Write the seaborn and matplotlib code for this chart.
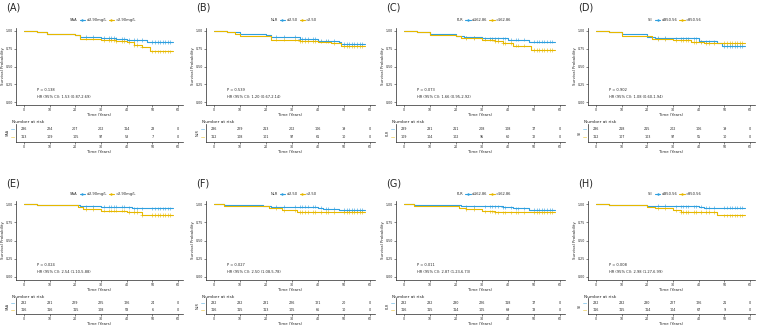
import numpy as np
import pandas as pd
import matplotlib
matplotlib.use("Agg")
import matplotlib.pyplot as plt
import seaborn as sns

# colours of the two strata (low = blue, high = yellow)
pal = ["#2E9FDF", "#E7B800"]

risk_times = [0, 10, 20, 30, 40, 50, 60]

# ---- panel data: step times / survival for low (1) and high (2) group ----
A_t1 = [0, 5, 9, 20, 22, 30, 36, 40, 48, 58]
A_s1 = [1, 0.98, 0.96, 0.945, 0.92, 0.9, 0.89, 0.875, 0.845, 0.845]
A_t2 = [0, 5, 9, 20, 22, 30, 36, 40, 43, 46, 49, 58]
A_s2 = [1, 0.98, 0.96, 0.945, 0.89, 0.875, 0.86, 0.84, 0.805, 0.78, 0.715, 0.715]

B_t1 = [0, 5, 10, 20, 22, 33, 40, 48, 49, 58]
B_s1 = [1, 0.98, 0.955, 0.94, 0.92, 0.89, 0.866, 0.84, 0.815, 0.815]
B_t2 = [0, 5, 8, 10, 22, 33, 40, 45, 49, 58]
B_s2 = [1, 0.98, 0.955, 0.925, 0.88, 0.86, 0.85, 0.83, 0.785, 0.785]

C_t1 = [0, 5, 10, 20, 23, 30, 40, 48, 58]
C_s1 = [1, 0.985, 0.955, 0.93, 0.91, 0.895, 0.88, 0.85, 0.85]
C_t2 = [0, 5, 10, 20, 22, 30, 35, 38, 42, 49, 58]
C_s2 = [1, 0.98, 0.945, 0.935, 0.9, 0.88, 0.86, 0.83, 0.795, 0.735, 0.735]

D_t1 = [0, 5, 10, 20, 23, 30, 40, 47, 49, 58]
D_s1 = [1, 0.98, 0.955, 0.92, 0.9, 0.895, 0.855, 0.83, 0.79, 0.79]
D_t2 = [0, 5, 10, 20, 22, 30, 37, 42, 58]
D_s2 = [1, 0.98, 0.935, 0.925, 0.885, 0.87, 0.845, 0.83, 0.83]

E_t1 = [0, 5, 22, 30, 40, 42, 58]
E_s1 = [1, 0.985, 0.97, 0.965, 0.955, 0.94, 0.94]
E_t2 = [0, 5, 21, 23, 30, 40, 46, 58]
E_s2 = [1, 0.99, 0.965, 0.93, 0.91, 0.89, 0.85, 0.85]

F_t1 = [0, 4, 19, 22, 40, 42, 48, 58]
F_s1 = [1, 0.99, 0.98, 0.965, 0.95, 0.935, 0.92, 0.92]
F_t2 = [0, 4, 19, 21, 26, 32, 58]
F_s2 = [1, 0.98, 0.97, 0.94, 0.915, 0.89, 0.89]

G_t1 = [0, 4, 19, 22, 38, 42, 48, 58]
G_s1 = [1, 0.99, 0.985, 0.97, 0.955, 0.94, 0.925, 0.925]
G_t2 = [0, 4, 19, 21, 24, 30, 35, 58]
G_s2 = [1, 0.98, 0.97, 0.95, 0.93, 0.9, 0.885, 0.885]

H_t1 = [0, 5, 20, 30, 40, 42, 58]
H_s1 = [1, 0.99, 0.98, 0.97, 0.965, 0.95, 0.95]
H_t2 = [0, 5, 20, 23, 30, 33, 47, 58]
H_s2 = [1, 0.985, 0.965, 0.94, 0.915, 0.89, 0.845, 0.845]

# censoring times (drawn as "+")
cens_t = [24, 27, 31, 33, 34, 35, 36, 38, 39, 41, 43, 44, 46, 50, 51, 52, 53, 54, 55, 56, 57]

# ---- labels, tests, numbers at risk ----
labels = ["(A)", "(B)", "(C)", "(D)", "(E)", "(F)", "(G)", "(H)"]
var_names = ["SAA", "NLR", "PLR", "SII", "SAA", "NLR", "PLR", "SII"]
low_lab = ["\u22642.90mg/L", "\u22642.50", "\u2264162.86", "\u2264850.56"] * 2
high_lab = [">2.90mg/L", ">2.50", ">162.86", ">850.56"] * 2
p_text = ["P = 0.138", "P = 0.539", "P = 0.073", "P = 0.902",
          "P = 0.024", "P = 0.027", "P = 0.011", "P = 0.008"]
hr_text = ["HR (95% CI): 1.53 (0.87-2.69)", "HR (95% CI): 1.20 (0.67-2.14)",
           "HR (95% CI): 1.66 (0.95-2.92)", "HR (95% CI): 1.08 (0.60-1.94)",
           "HR (95% CI): 2.54 (1.10-5.88)", "HR (95% CI): 2.50 (1.08-5.78)",
           "HR (95% CI): 2.87 (1.23-6.73)", "HR (95% CI): 2.98 (1.27-6.99)"]
risk_low = [[236, 224, 207, 202, 114, 23, 0], [236, 229, 213, 202, 106, 19, 0],
            [239, 231, 211, 208, 108, 17, 0], [236, 218, 215, 202, 106, 19, 0],
            [232, 231, 229, 225, 126, 24, 0], [232, 232, 231, 226, 121, 20, 0],
            [232, 232, 230, 226, 118, 17, 0], [232, 232, 230, 227, 126, 21, 0]]
risk_high = [[113, 109, 105, 97, 53, 7, 0], [112, 108, 101, 97, 61, 10, 0],
             [109, 104, 102, 95, 60, 12, 0], [112, 107, 103, 97, 55, 10, 0],
             [116, 116, 115, 108, 58, 6, 0], [116, 115, 113, 105, 66, 10, 0],
             [116, 115, 114, 105, 69, 13, 0], [116, 115, 114, 104, 67, 9, 0]]

curves = [(A_t1, A_s1, A_t2, A_s2), (B_t1, B_s1, B_t2, B_s2),
          (C_t1, C_s1, C_t2, C_s2), (D_t1, D_s1, D_t2, D_s2),
          (E_t1, E_s1, E_t2, E_s2), (F_t1, F_s1, F_t2, F_s2),
          (G_t1, G_s1, G_t2, G_s2), (H_t1, H_s1, H_t2, H_s2)]

sns.set_style("ticks")
plt.rcParams["font.family"] = ["DejaVu Sans"]

W, H = 757, 327
fig = plt.figure(figsize=(W / 100, H / 100), dpi=100)


def px_axes(left, top, right, bottom):
    return fig.add_axes([left / W, 1 - bottom / H, (right - left) / W, (bottom - top) / H])


def surv_at(t, s, x):
    idx = np.searchsorted(t, x, side="right") - 1
    return np.array(s)[idx]


col_left = [16, 206, 396, 588]
col_right = [183, 375, 565, 755]
row_geo = [  # label_y, legend_y, ax top, ax bottom, xlabel_y, nar_y, tab top, tab bottom
    dict(lab=8, leg=20, top=28, bot=105, nar=122, ttop=124, tbot=142),
    dict(lab=184, leg=194, top=201, bot=280, nar=297, ttop=298, tbot=314),
]

for i in range(8):
    r, c = divmod(i, 4)
    g = row_geo[r]
    l, rr = col_left[c], col_right[c]
    ax = px_axes(l, g["top"], rr, g["bot"])
    t1, s1, t2, s2 = curves[i]
    df = pd.concat([
        pd.DataFrame({"time": t1, "surv": s1, "group": low_lab[i]}),
        pd.DataFrame({"time": t2, "surv": s2, "group": high_lab[i]}),
    ])
    sns.lineplot(data=df, x="time", y="surv", hue="group", drawstyle="steps-post",
                 palette=pal, ax=ax, legend=False, linewidth=0.8, estimator=None)
    # censor marks
    cens = []
    for tt, ss, gname in [(t1, s1, low_lab[i]), (t2, s2, high_lab[i])]:
        for ct in cens_t:
            cens.append({"time": ct, "surv": surv_at(tt, ss, ct), "group": gname})
    cdf = pd.DataFrame(cens)
    sns.scatterplot(data=cdf, x="time", y="surv", hue="group", palette=pal, marker="+",
                    s=6, linewidth=0.4, ax=ax, legend=False)
    ax.set_xlim(-3.1, 61.9)
    ax.set_ylim(-0.042, 1.042)
    ax.set_xticks(risk_times)
    ax.set_yticks([0, 0.25, 0.5, 0.75, 1.0])
    ax.set_yticklabels(["0.00", "0.25", "0.50", "0.75", "1.00"])
    ax.tick_params(labelsize=2.3, length=1.2, width=0.4, pad=0.8)
    for sp in ["top", "right"]:
        ax.spines[sp].set_visible(False)
    for sp in ["left", "bottom"]:
        ax.spines[sp].set_linewidth(0.5)
    ax.set_xlabel("Time (Years)", fontsize=2.8, labelpad=1)
    ax.set_ylabel("Survival Probability", fontsize=2.8, labelpad=0.8)
    ax.text(5, 0.15, p_text[i], fontsize=2.6)
    ax.text(5, 0.05, hr_text[i], fontsize=2.6)

    # legend above
    handles = [plt.Line2D([], [], color="none"),
               plt.Line2D([], [], color=pal[0], lw=0.8, marker="+", ms=2),
               plt.Line2D([], [], color=pal[1], lw=0.8, marker="+", ms=2)]
    fig.legend(handles, [var_names[i], low_lab[i], high_lab[i]], ncol=3,
               loc="center", bbox_to_anchor=((l + rr) / 2 / W, 1 - g["leg"] / H),
               fontsize=2.6, frameon=False, handlelength=1.5, handletextpad=0.3,
               columnspacing=0.6)

    fig.text(max(l - 10, 4) / W, 1 - g["lab"] / H, labels[i], fontsize=7, va="center")

    # risk table
    tab = px_axes(l, g["ttop"], rr, g["tbot"])
    for j, tt in enumerate(risk_times):
        tab.text(tt, 1, str(risk_low[i][j]), ha="center", va="center", fontsize=2.4)
        tab.text(tt, 0, str(risk_high[i][j]), ha="center", va="center", fontsize=2.4)
    tab.set_xlim(-3.1, 61.9)
    tab.set_ylim(-0.6, 1.65)
    tab.set_xticks(risk_times)
    tab.set_yticks([0, 1])
    tab.set_yticklabels(["\u2014", "\u2014"], fontsize=3, fontweight="bold")
    for lbl, col in zip(tab.get_yticklabels(), [pal[1], pal[0]]):
        lbl.set_color(col)
    tab.tick_params(axis="x", labelsize=2.3, length=1.2, width=0.4, pad=1)
    tab.tick_params(axis="y", length=0, pad=0.5)
    for sp in ["top", "right"]:
        tab.spines[sp].set_visible(False)
    for sp in ["left", "bottom"]:
        tab.spines[sp].set_linewidth(0.5)
    tab.set_xlabel("Time (Years)", fontsize=2.8, labelpad=1)
    tab.set_ylabel(var_names[i], fontsize=2.4, labelpad=1)
    fig.text((l - 4) / W, 1 - g["nar"] / H, "Number at risk", fontsize=3.2, va="center")

fig.savefig("out.png", dpi=100)
